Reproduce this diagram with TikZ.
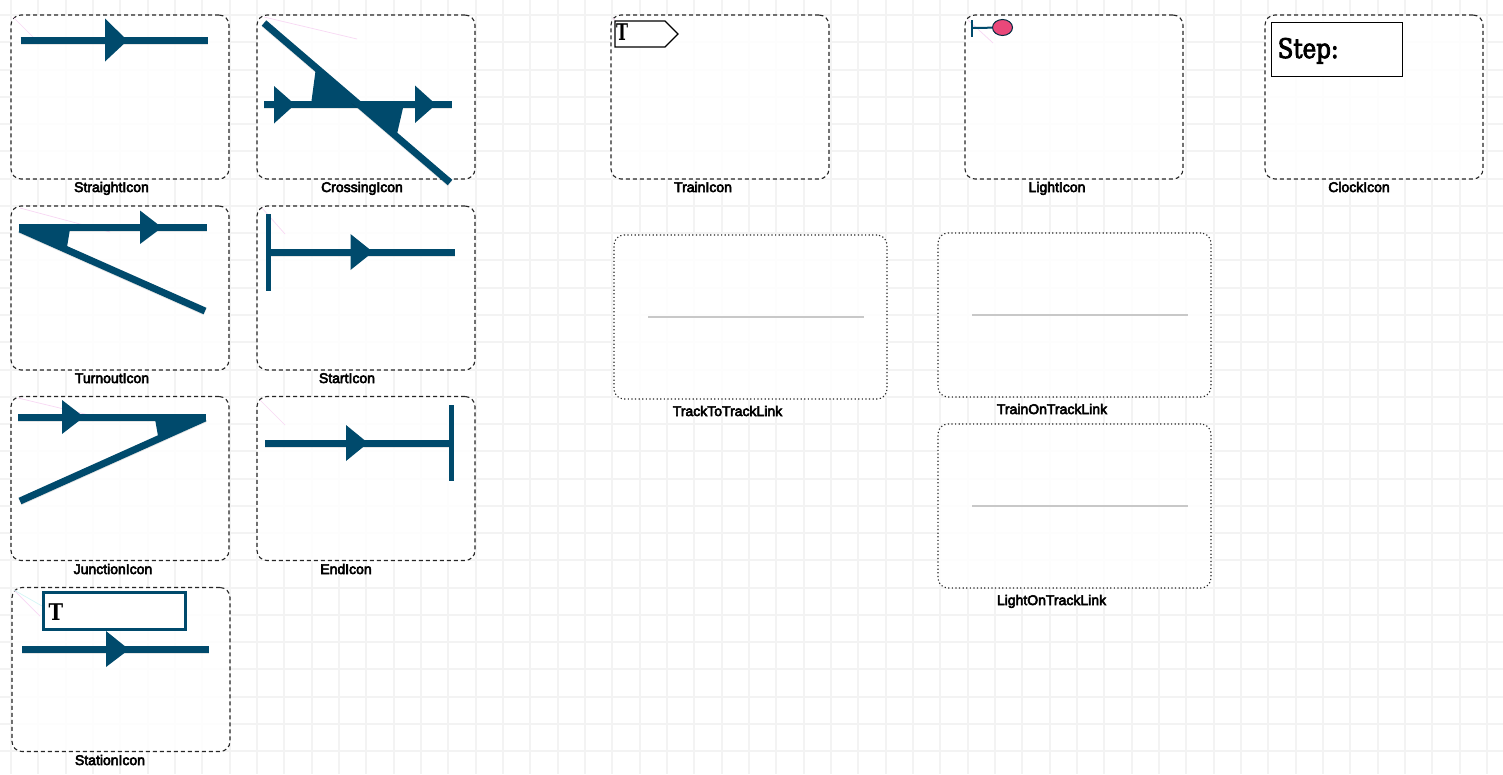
\documentclass[tikz,border=0pt]{standalone}
\usepackage{fontspec}
\setmainfont{Liberation Sans}
\newfontfamily\capfont[FakeBold=4]{Liberation Sans}
\newfontfamily\stepfont[FakeStretch=0.85,FakeBold=3]{DejaVu Serif}
\newfontfamily\stationfont[FakeStretch=0.85]{DejaVu Serif Bold}
\newfontfamily\trainfont[FakeStretch=0.7]{DejaVu Serif Bold}
\usetikzlibrary{calc,shapes.geometric}
\definecolor{railc}{HTML}{004A6C}
\definecolor{gridc}{HTML}{F3F3F3}
\definecolor{linkc}{HTML}{C8C8C8}
\definecolor{lampc}{HTML}{E9487A}
\definecolor{pinkc}{HTML}{F8D8F4}
\definecolor{cyanc}{HTML}{D4F6F6}
\tikzset{
  iconbox/.style={draw=black!85,fill=white,fill opacity=.85,line width=1.1pt,rounded corners=10pt,dash pattern=on 4pt off 3pt,inner sep=0pt,outer sep=0pt},
  icondim/.style={minimum width=218pt,minimum height=164pt},
  linkbox/.style={draw=black!85,fill=white,fill opacity=.85,line width=1.1pt,rounded corners=10pt,dash pattern=on 1.2pt off 2.4pt,inner sep=0pt,outer sep=0pt,minimum width=273pt,minimum height=164pt},
  caption/.style={font=\capfont\fontsize{14pt}{15pt}\selectfont,text=black,inner sep=0pt,anchor=base},
  rail/.style={draw=railc,line width=7pt},
  railshadow/.style={draw=black,opacity=.1,line width=7pt},
  wedge/.style={fill=railc,draw=none},
  linkline/.style={draw=linkc,line width=2.4pt},
  faint/.style={draw=pinkc,line width=.7pt},
}
\newcommand{\railline}[2]{%
  \draw[railshadow] ($(#1)+(0,1)$) -- ($(#2)+(0,1)$);
  \draw[rail] (#1) -- (#2);}
\begin{document}
\begin{tikzpicture}[x=1pt,y=-1pt]
\useasboundingbox (0,0) rectangle (1503,774);
\clip (0,0) rectangle (1503,774);
\fill[white] (0,0) rectangle (1503,774);
% background grid
\foreach \k in {0,...,54} \draw[gridc,line width=2pt] ({11+27.33*\k},0) -- ({11+27.33*\k},774);
\foreach \k in {0,...,28} \draw[gridc,line width=2pt] (0,{15+27.27*\k}) -- (1503,{15+27.27*\k});

% frames
\node[iconbox,icondim] (straight) at (120,97) {};
\node[iconbox,icondim] (crossing) at (366,97) {};
\node[iconbox,icondim] (train) at (720,97) {};
\node[iconbox,icondim] (light) at (1074,97) {};
\node[iconbox,icondim] (clock) at (1374,97) {};
\node[iconbox,icondim] (turnout) at (120,288) {};
\node[iconbox,icondim] (start) at (366,288) {};
\node[iconbox,icondim] (junction) at (120,478.5) {};
\node[iconbox,icondim] (endb) at (366,478.5) {};
\node[iconbox,icondim] (station) at (121,669.5) {};
\node[linkbox] (ttl) at (750.5,317) {};
\node[linkbox] (tol) at (1074.5,315) {};
\node[linkbox] (lol) at (1074.5,506) {};

% faint guide strokes
\draw[faint] (13,17) -- (38,42);
\draw[faint] (264,17) -- (357,39);
\draw[faint] (20,208) -- (110,232);
\draw[faint] (262,208) -- (285,234);
\draw[faint] (18,398) -- (110,420);
\draw[faint] (260,400) -- (285,425);
\draw[faint] (14,590) -- (40,616);
\draw[cyanc,line width=.7pt] (14,590) -- (42,606);
\draw[faint] (613,18) -- (638,45);
\draw[faint] (968,20) -- (993,43);
\draw[faint] (1272,22) -- (1320,45);
\draw[cyanc,line width=.7pt] (1272,22) -- (1285,45);

% StraightIcon
\coordinate (a1) at (20.5,40.5); \coordinate (a2) at (208,40.5);
\railline{a1}{a2}
\fill[railc] (105,18.5) -- (127.5,40.5) -- (105,61.5) -- cycle;

% CrossingIcon
\coordinate (b1) at (264,104.5); \coordinate (b2) at (452,104.5);
\coordinate (b3) at (264,23); \coordinate (b4) at (450,182.5);
\railline{b1}{b2}
\railline{b3}{b4}
\fill[wedge] (315.5,71) -- (311.5,101) -- (360,104) -- cycle;
\fill[wedge] (403,108) -- (397,134) -- (360,104) -- cycle;
\fill[railc] (274,86) -- (295,104.5) -- (274,123.5) -- cycle;
\fill[railc] (415,85.5) -- (436,104.5) -- (415,123) -- cycle;

% TurnoutIcon
\coordinate (c1) at (19,227.5); \coordinate (c2) at (207,227.5);
\coordinate (c3) at (20,229); \coordinate (c4) at (205,311);
\railline{c1}{c2}
\railline{c3}{c4}
\fill[wedge] (70,229) -- (67,247) -- (20,230) -- cycle;
\fill[railc] (140,210.5) -- (162,227.5) -- (140,244) -- cycle;

% StartIcon
\coordinate (d1) at (271,252); \coordinate (d2) at (455,252);
\coordinate (d3) at (268.5,214); \coordinate (d4) at (268.5,291);
\railline{d1}{d2}
\draw[draw=railc,line width=5pt] (d3) -- (d4);
\fill[railc] (350.5,234) -- (373,252) -- (350.5,270) -- cycle;

% JunctionIcon
\coordinate (e1) at (18,417); \coordinate (e2) at (206,417);
\coordinate (e3) at (20,501); \coordinate (e4) at (205,418);
\railline{e1}{e2}
\railline{e3}{e4}
\fill[wedge] (155,419) -- (158,436) -- (205,418) -- cycle;
\fill[railc] (62,400) -- (84,417) -- (62,434) -- cycle;

% EndIcon
\coordinate (f1) at (265,443); \coordinate (f2) at (450,443);
\coordinate (f3) at (451,405); \coordinate (f4) at (451,481);
\railline{f1}{f2}
\draw[draw=railc,line width=5pt] (f3) -- (f4);
\fill[railc] (346,425) -- (368,443) -- (346,461) -- cycle;

% StationIcon
\coordinate (g1) at (22,649.5); \coordinate (g2) at (209,649.5);
\railline{g1}{g2}
\fill[railc] (106,631) -- (129,649.5) -- (106,667) -- cycle;
\node[draw=railc,line width=2.4pt,fill=white,minimum width=142pt,minimum height=37pt,inner sep=0pt] (stationsign) at (114.5,611) {};
\node[font=\stationfont\fontsize{23pt}{24pt}\selectfont,inner sep=0pt,anchor=base] (stationt) at (56,620) {T};

% TrainIcon
\draw[fill=white,draw=black,line width=1.3pt] (615,21) -- (665,21) -- (678,34) -- (665,47) -- (615,47) -- cycle;
\node[font=\trainfont\fontsize{23pt}{24pt}\selectfont,inner sep=0pt,anchor=base] (traint) at (622,40.5) {T};

% LightIcon
\coordinate (h1) at (972,20); \coordinate (h2) at (972,37);
\coordinate (h3) at (972,28);
\draw[railc,line width=1.6pt] (h1) -- (h2);
\node[ellipse,draw=railc!60!black,fill=lampc,line width=1pt,minimum width=20pt,minimum height=16pt,inner sep=0pt] (lamp) at (1002.5,27.5) {};
\draw[railc,line width=2pt] (h3) -- (lamp);

% ClockIcon
\node[draw=black,line width=1pt,fill=white,minimum width=130.5pt,minimum height=54pt,inner sep=0pt] (clocksign) at (1337,49) {};
\node[font=\stepfont\fontsize{27pt}{28pt}\selectfont,anchor=base west,inner sep=0pt] (steptext) at (1277.5,58) {Step:};

% link samples
\coordinate (k1) at (648,317); \coordinate (k2) at (863.5,317);
\coordinate (k3) at (972,315); \coordinate (k4) at (1188,315);
\coordinate (k5) at (972,506); \coordinate (k6) at (1188,506);
\draw[linkline] (k1) -- (k2);
\draw[linkline] (k3) -- (k4);
\draw[linkline] (k5) -- (k6);

% captions
\node[caption] (l1) at (111.5,192) {StraightIcon};
\node[caption] (l2) at (362,192) {CrossingIcon};
\node[caption] (l3) at (703,192) {TrainIcon};
\node[caption] (l4) at (1057,192) {LightIcon};
\node[caption] (l5) at (1359,192) {ClockIcon};
\node[caption] (l6) at (112,383) {TurnoutIcon};
\node[caption] (l7) at (347,383) {StartIcon};
\node[caption] (l8) at (113,574) {JunctionIcon};
\node[caption] (l9) at (346,574) {EndIcon};
\node[caption] (l10) at (110,765) {StationIcon};
\node[caption] (l11) at (727.5,416) {TrackToTrackLink};
\node[caption] (l12) at (1052,414) {TrainOnTrackLink};
\node[caption] (l13) at (1051.5,605) {LightOnTrackLink};
\end{tikzpicture}
\end{document}
